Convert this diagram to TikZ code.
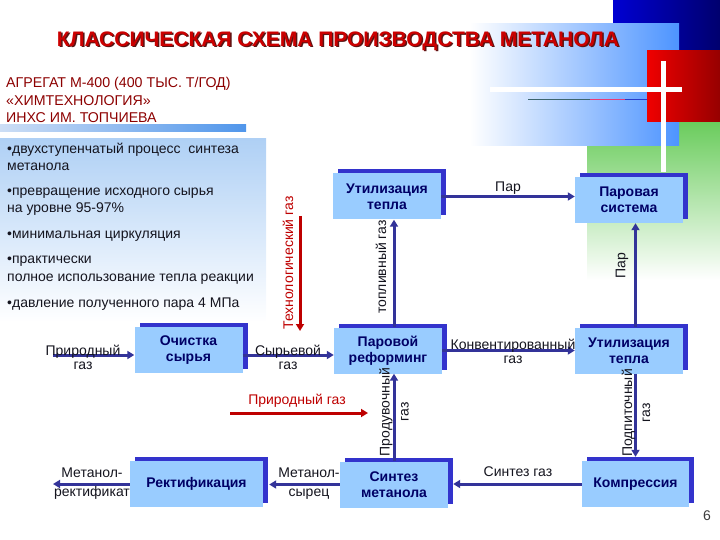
\documentclass[tikz,border=0pt]{standalone}
\usepackage{fontspec}
\setmainfont{Liberation Sans}
\usetikzlibrary{arrows.meta,shadows,calc}
\definecolor{boxfill}{RGB}{153,204,255}
\definecolor{boxshadow}{RGB}{51,51,204}
\definecolor{boxtext}{RGB}{0,0,102}
\definecolor{arrowblue}{RGB}{51,51,153}
\definecolor{arrowred}{RGB}{190,0,0}
\definecolor{titlered}{RGB}{204,0,0}
\definecolor{titleshadow}{RGB}{90,20,20}
\definecolor{subred}{RGB}{140,0,0}
\definecolor{labeltext}{RGB}{20,20,30}
\definecolor{decoblue}{RGB}{77,148,255}
\definecolor{navyA}{RGB}{0,0,210}
\definecolor{navyB}{RGB}{0,0,110}
\definecolor{redA}{RGB}{240,0,0}
\definecolor{redB}{RGB}{150,0,0}
\definecolor{greenA}{RGB}{95,200,80}
\definecolor{bulletTop}{RGB}{175,208,245}
\definecolor{barL}{RGB}{205,222,245}
\definecolor{barR}{RGB}{80,150,235}
\newcommand\myfs[2]{\fontsize{#1}{#2}\selectfont}
\begin{document}
\begin{tikzpicture}[x=1pt,y=-1pt,
 procbox/.style={rectangle, fill=boxfill, minimum height=46pt, minimum width=108pt,
   inner sep=0pt, align=center, text=boxtext, font=\bfseries\myfs{14}{16},
   general shadow={fill=boxshadow, shadow xshift=5pt, shadow yshift=4pt}},
 flow/.style={draw=arrowblue, line width=3pt, -{Triangle[length=7pt,width=8pt]}},
 redflow/.style={draw=arrowred, line width=3pt, -{Triangle[length=7pt,width=8pt]}},
 lbl/.style={text=labeltext, font=\myfs{14}{14}, align=center, inner sep=0pt},
 bul/.style={text=labeltext, font=\myfs{14}{14}, anchor=base west, inner sep=0pt},
 titlefont/.style={font=\bfseries\myfs{21}{24}, inner sep=0pt}
]
\useasboundingbox (0,0) rectangle (720,540);
% decorations
\fill[left color=navyA, right color=navyB] (613,0) rectangle (720,51);
\fill[top color=greenA, bottom color=white] (587,110) rectangle (720,280);
\fill[left color=white, right color=decoblue] (470,24) rectangle (679,146);
\fill[left color=redA, right color=redB] (647,51) rectangle (720,122);
\fill[white] (490,87.5) rectangle (682,92.5);
\fill[white] (660.5,61) rectangle (665.5,172);
\draw[line width=1pt, color={rgb,255:red,60;green,100;blue,110}] (528,100) -- (590,100);
\draw[line width=1pt, color={rgb,255:red,230;green,60;blue,120}] (590,100) -- (625,100);
\draw[line width=1pt, color={rgb,255:red,40;green,60;blue,200}] (625,100) -- (647,100);
% left panel
\fill[left color=barL, right color=barR] (0,125) rectangle (246,132);
\fill[top color=bulletTop, bottom color=white] (0,139) rectangle (266,322);
% title
\node[titlefont, text=titleshadow] (titleshd) at (339.5,42.5) {КЛАССИЧЕСКАЯ СХЕМА ПРОИЗВОДСТВА МЕТАНОЛА};
\node[titlefont, text=titlered] (title) at (338,41) {КЛАССИЧЕСКАЯ СХЕМА ПРОИЗВОДСТВА МЕТАНОЛА};
\node[anchor=north west, inner sep=0pt, align=left, text=subred, font=\myfs{14.2}{17.5}] (sub) at (6,77.5)
 {АГРЕГАТ М-400 (400 ТЫС. Т/ГОД)\\«ХИМТЕХНОЛОГИЯ»\\ИНХС ИМ. ТОПЧИЕВА};
% bullets
\node[bul] (b1) at (7,154) {•двухступенчатый процесс\ \ синтеза};
\node[bul] (b1b) at (7,171) {метанола};
\node[bul] (b2) at (7,196) {•превращение исходного сырья};
\node[bul] (b2b) at (7,212) {на уровне 95-97\%};
\node[bul] (b3) at (7,239) {•минимальная циркуляция};
\node[bul] (b4) at (7,263) {•практически};
\node[bul] (b4b) at (7,281) {полное использование тепла реакции};
\node[bul] (b5) at (7,307) {•давление полученного пара 4 МПа};
% process boxes
\node[procbox] (util1) at (387,196.5) {Утилизация\\тепла};
\node[procbox] (steam) at (629,200) {Паровая\\система};
\node[procbox] (clean) at (188.5,350) {Очистка\\сырья};
\node[procbox] (reform) at (388,350.5) {Паровой\\реформинг};
\node[procbox] (util2) at (629,350.5) {Утилизация\\тепла};
\node[procbox, minimum width=133pt] (rect) at (196.5,484) {Ректификация};
\node[procbox] (synth) at (394,484.5) {Синтез\\метанола};
\node[procbox, minimum width=107pt] (compr) at (635.5,484) {Компрессия};
% connectors
\coordinate (ngin) at (53,355);
\coordinate (mrout) at (53,484);
\draw[flow] (ngin) -- (ngin -| clean.west);
\draw[flow] (clean.east |- ngin) -- (reform.west |- ngin);
\draw[flow] (reform.north -| synth.center) -- (util1.south -| synth.center);
\draw[flow] (util1.east) -- (steam.west |- util1.east);
\draw[flow] (util2.north -| compr.center) -- (steam.south -| compr.center);
\draw[flow] (reform.east) -- (util2.west |- reform.east);
\draw[flow, shorten >=4pt] (util2.south -| compr.center) -- (compr.north);
\draw[flow] (compr.west) -- ($(synth.east |- compr.west)+(5,0)$);
\draw[flow] (synth.north) -- (reform.south -| synth.north);
\draw[flow] (synth.west) -- ($(rect.east |- synth.west)+(6,0)$);
\draw[flow] (rect.west) -- (mrout);
\coordinate (tgA) at (300,216);
\coordinate (tgB) at (300,331);
\draw[redflow] (tgA) -- (tgB);
\coordinate (ngA) at (230,413);
\coordinate (ngB) at (368,413);
\draw[redflow] (ngA) -- (ngB);
% labels
\node[lbl] (lng) at (83,357) {Природный\\газ};
\node[lbl] (lsg) at (288,357) {Сырьевой\\газ};
\node[lbl] (lkg) at (513,351) {Конвентированный\\газ};
\node[lbl] (lpar) at (508,188) {Пар};
\node[lbl] (lsyn) at (518,472) {Синтез газ};
\node[lbl, font=\myfs{14}{19}] (lms) at (309,484) {Метанол-\\сырец};
\node[lbl, font=\myfs{14}{19}] (lmr) at (92,484) {Метанол-\\ректификат};
\node[lbl, text=arrowred] (lrng) at (297,401) {Природный газ};
\node[lbl, text=arrowred, rotate=90] (ltg) at (288,263) {Технологический газ};
\node[lbl, rotate=90] (ltop) at (381,267) {топливный газ};
\node[lbl, rotate=90] (lpar2) at (622,266) {Пар};
\node[lbl, rotate=90, font=\myfs{14}{19}] (lprod) at (394,412) {Продувочный\\газ};
\node[lbl, rotate=90, font=\myfs{14}{18}] (lpod) at (636,413) {Подпиточный\\газ};
\node[lbl, text={rgb,255:red,60;green,60;blue,60}] (pg) at (707,516) {6};
\end{tikzpicture}
\end{document}
